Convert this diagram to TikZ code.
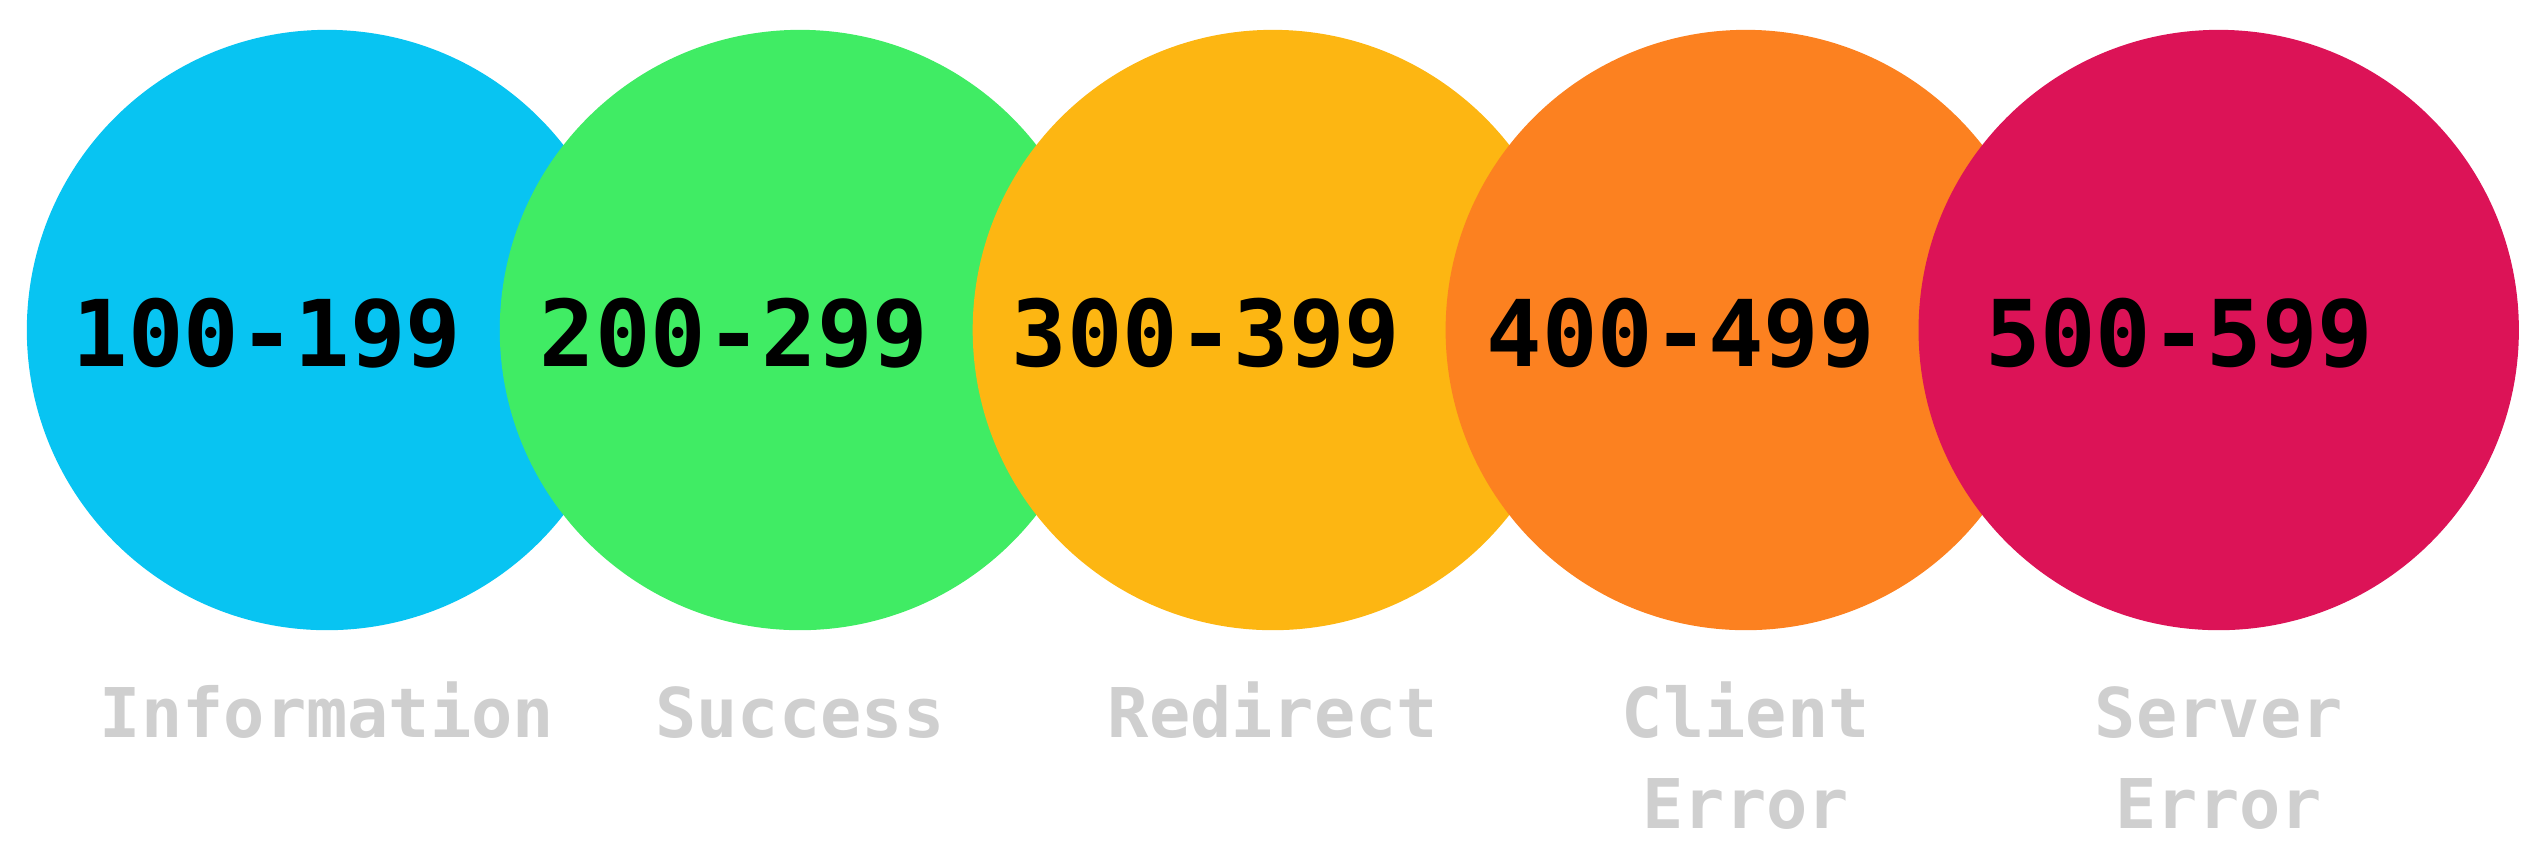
\documentclass[tikz,border=0pt]{standalone}
\usepackage{fontspec}
\setmonofont{DejaVu Sans Mono}
\usetikzlibrary{positioning}
\definecolor{infoBlue}{HTML}{08C4F2}
\definecolor{successGreen}{HTML}{40EC64}
\definecolor{redirectAmber}{HTML}{FDB612}
\definecolor{clientOrange}{HTML}{FC8120}
\definecolor{serverRed}{HTML}{DC1357}
\definecolor{captionGray}{HTML}{CFCFCF}

\begin{document}
\begin{tikzpicture}[
  x=0.01cm, y=-0.01cm,
  node distance=-1.2875cm,
  ring/.style={circle, minimum size=6cm, inner sep=0pt, fill=#1},
  codes/.style={anchor=base, inner sep=0pt, font=\fontsize{26.2pt}{32pt}\ttfamily\bfseries},
  caption/.style={anchor=base, inner sep=0pt, align=center, text=captionGray, font=\fontsize{19.5pt}{25.9pt}\ttfamily\bfseries},
]
\useasboundingbox (0,0) rectangle (2547,853);

% Row 1 — status classes, each circle laid over the previous one
\node[ring=infoBlue] (info) at (327,330) {};
\node[codes] (info-codes) at ([xshift=-0.6cm, yshift=-0.36cm]info.center) {100-199};

\node[ring=successGreen, right=of info] (success) {};
\node[codes] (success-codes) at ([xshift=-0.66cm, yshift=-0.36cm]success.center) {200-299};

\node[ring=redirectAmber, right=of success] (redirect) {};
\node[codes] (redirect-codes) at ([xshift=-0.67cm, yshift=-0.36cm]redirect.center) {300-399};

\node[ring=clientOrange, right=of redirect] (client) {};
\node[codes] (client-codes) at ([xshift=-0.65cm, yshift=-0.36cm]client.center) {400-499};

\node[ring=serverRed, right=of client] (server) {};
\node[codes] (server-codes) at ([xshift=-0.395cm, yshift=-0.36cm]server.center) {500-599};

% Row 2 — captions (two-line ones sit on their last line)
\node[caption] (info-caption) at ([yshift=-4.07cm]info.center) {Information};
\node[caption] (success-caption) at ([yshift=-4.07cm]success.center) {Success};
\node[caption] (redirect-caption) at ([yshift=-4.07cm]redirect.center) {Redirect};
\node[caption] (client-caption) at ([yshift=-4.98cm]client.center) {Client\\Error};
\node[caption] (server-caption) at ([yshift=-4.98cm]server.center) {Server\\Error};

\end{tikzpicture}
\end{document}
